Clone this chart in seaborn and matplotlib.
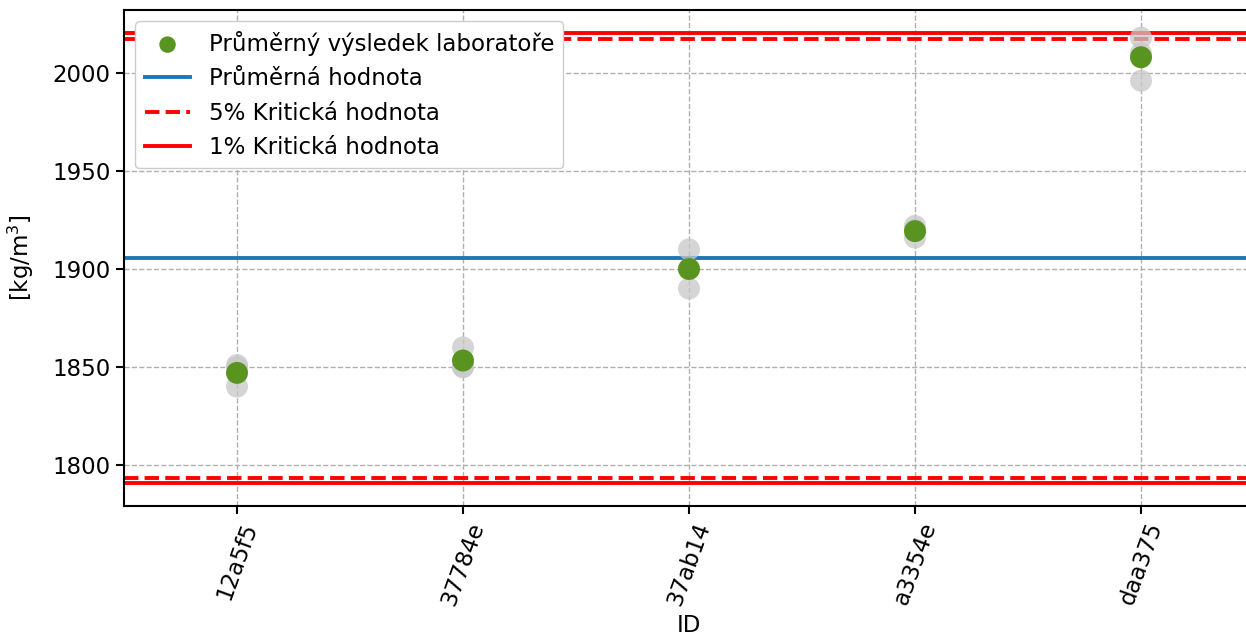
import matplotlib
matplotlib.use("Agg")
import matplotlib.pyplot as plt
import seaborn as sns
import pandas as pd
import numpy as np

ids = ["12a5f5", "37784e", "37ab14", "a3354e", "daa375"]
rep1 = [1850, 1860, 1910, 1922, 2018]
rep2 = [1840, 1850, 1890, 1916, 2010]
rep3 = [1851, 1850, 1900, 1920, 1996]
lab_means = [1847, 1853.3, 1900, 1919.3, 2008]
overall_mean = 1905.5
crit5 = [1793.4, 2017.3]
crit1 = [1790.8, 2020.4]

plt.rcParams['font.family'] = ['DejaVu Sans']
plt.rcParams['font.size'] = 16.5

fig = plt.figure(figsize=(12.46, 6.43), dpi=100)
ax = fig.add_axes([124/1246, 1 - 506/643, 1130/1246, 496/643])

raw = pd.DataFrame({"ID": ids * 3, "value": rep1 + rep2 + rep3})
means = pd.DataFrame({"ID": ids, "value": lab_means})

sns.scatterplot(data=raw, x="ID", y="value", color="#c8c8c8", alpha=0.75, s=250,
                edgecolor="none", ax=ax, zorder=3)
sns.scatterplot(data=means, x="ID", y="value", color="#5a9420", s=250, edgecolor="none",
                ax=ax, zorder=4, label="Průměrný výsledek laboratoře")

ax.axhline(overall_mean, color="#1f77b4", lw=2.8, label="Průměrná hodnota", zorder=2)
ax.axhline(crit5[0], color="red", lw=2.8, ls="--", label="5% Kritická hodnota", zorder=2)
ax.axhline(crit5[1], color="red", lw=2.8, ls="--", zorder=2)
ax.axhline(crit1[0], color="red", lw=2.8, label="1% Kritická hodnota", zorder=2)
ax.axhline(crit1[1], color="red", lw=2.8, zorder=2)

ax.set_xlim(-0.5, 4.5)
ax.set_ylim(1779.1, 2032.1)
ax.set_yticks([1800, 1850, 1900, 1950, 2000])
ax.grid(True, ls="--", color="#b0b0b0", lw=1)
ax.set_axisbelow(True)
plt.setp(ax.get_xticklabels(), rotation=70)
ax.set_xlabel("ID")
ax.set_ylabel("[kg/m$^3$]", labelpad=12)
for s in ax.spines.values():
    s.set_linewidth(1.5)
ax.tick_params(width=1.5, length=6)

leg = ax.legend(loc="upper left", fontsize=16.5, framealpha=1.0, borderpad=0.4,
                handlelength=2.0, markerscale=0.75)
leg.set_zorder(10)
fig.savefig("out.png", dpi=100)
